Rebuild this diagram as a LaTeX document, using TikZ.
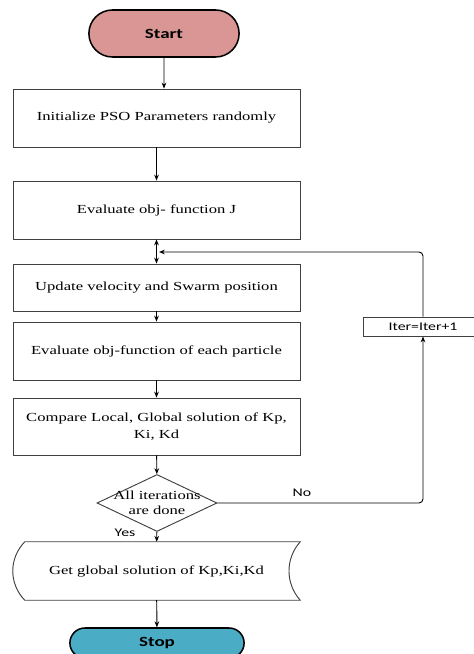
\documentclass[tikz,border=0pt]{standalone}
\usepackage{fontspec}
\setmainfont{Liberation Serif}[FakeStretch=1.35]
\newfontfamily\labfont{Carlito}[FakeStretch=1.35]
\usetikzlibrary{shapes.geometric,shapes.misc,arrows.meta}
\definecolor{startred}{HTML}{D99694}
\definecolor{stopblue}{HTML}{4BACC6}
\tikzset{
  procbox/.style={rectangle, draw=black!75, line width=0.8pt, minimum width=8.61cm,
                  align=center, font=\fontsize{10.5}{14}\selectfont},
  term/.style={rounded rectangle, draw=black, line width=1.3pt,
               font=\labfont\fontsize{12}{14}\selectfont\bfseries},
  arr/.style={-{Stealth[length=5pt,width=4pt]}, line width=0.8pt},
}
\begin{document}
\begin{tikzpicture}[x=0.03cm, y=-0.03cm]
  \useasboundingbox (0,0) rectangle (473,654);

  \node[term, fill=startred, minimum width=4.74cm, minimum height=1.41cm] (start) at (164,33.5) {Start};
  \node[procbox, minimum height=1.74cm] (init) at (156.5,118) {Initialize PSO Parameters randomly};
  \node[procbox, minimum height=1.74cm] (evalJ) at (156.5,210) {Evaluate obj- function J};
  \node[procbox, minimum height=1.41cm] (update) at (156.5,287.5) {Update velocity and Swarm position};
  \node[procbox, minimum height=1.74cm] (evalP) at (156.5,351) {Evaluate obj-function of each particle};
  \node[procbox, minimum height=1.71cm] (comp) at (156.5,426.5) {Compare Local, Global solution of Kp,\\Ki, Kd};
  \node[diamond, draw=black!75, line width=0.8pt, inner sep=0pt, minimum width=3.6cm, minimum height=1.71cm,
        label={[align=center, font=\fontsize{10.5}{13}\selectfont]center:All iterations\\are done}] (done) at (157,503) {};
  \node[rectangle, draw=black!75, line width=0.8pt, minimum width=3.6cm, minimum height=0.57cm,
        font=\labfont\fontsize{10}{12}\selectfont] (iter) at (423,326.5) {Iter=Iter+1};
  \node[minimum width=8.61cm, minimum height=1.74cm, font=\fontsize{10.5}{14}\selectfont] (out) at (156.5,571)
        {Get global solution of Kp,Ki,Kd};
  \node[term, fill=stopblue, minimum width=5.46cm, minimum height=0.9cm] (stop) at (157,643) {Stop};

  % stored data outline
  \draw[black!75, line width=0.8pt] ([xshift=0.36cm]out.north west) -- (out.north east)
        .. controls +(-0.45cm,-0.5cm) and +(-0.45cm,0.5cm) .. (out.south east)
        -- ([xshift=0.36cm]out.south west)
        .. controls +(-0.48cm,0.5cm) and +(-0.48cm,-0.5cm) .. ([xshift=0.36cm]out.north west) -- cycle;

  \draw[arr] (start) -- (start |- init.north);
  \draw[arr] (init) -- (evalJ);
  \draw[{Stealth[length=5pt,width=4pt]}-{Stealth[length=5pt,width=4pt]}, line width=0.8pt] (evalJ) -- (update);
  \draw[arr] (update) -- (evalP);
  \draw[arr] (evalP) -- (comp);
  \draw[arr] (comp) -- (done);
  \draw[arr] (done) -- (out);
  \draw[arr] (out) -- (stop);

  \coordinate (loopin) at (159,252);
  \draw[arr, rounded corners=0.12cm] (done.east) -| (iter.south);
  \draw[arr, rounded corners=0.12cm] (iter.north) |- (loopin);

  \node[font=\labfont\fontsize{10}{12}\selectfont] (no) at (302,493) {No};
  \node[font=\labfont\fontsize{10}{12}\selectfont] (yes) at (125,533) {Yes};
\end{tikzpicture}
\end{document}
